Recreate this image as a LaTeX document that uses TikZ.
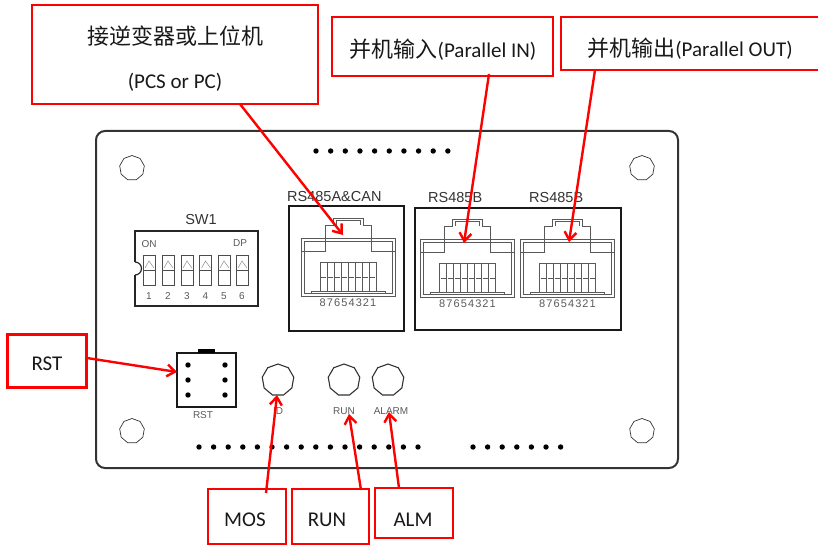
\documentclass[tikz,border=0pt]{standalone}
\usepackage{fontspec}
\setmainfont{Carlito}
\setsansfont{Liberation Sans}
\newfontfamily\cjk{Noto Sans CJK SC}
\usetikzlibrary{arrows.meta,shapes.geometric}
\tikzset{
  callout/.style={draw=red,line width=2.2pt,fill=white,inner sep=0pt},
  calltext/.style={font=\fontsize{21}{24}\selectfont,text=black!90,inner sep=0pt},
  pointer/.style={draw=red,line width=2.4pt,-{Straight Barb[length=8pt,width=12pt]}},
  hole/.style={regular polygon,regular polygon sides=9,shape border rotate=0,draw=black!80,line width=#1,inner sep=0pt},
  jackline/.style={draw=black!65,line width=0.8pt},
  silk/.style={font=\sffamily\fontsize{10}{11}\selectfont,text=black!65,inner sep=0pt},
  header/.style={font=\sffamily\fontsize{14.5}{16}\selectfont,text=black!80,inner sep=0pt},
}
% one RJ45 jack, origin at the middle of the bottom edge
\newcommand{\jack}[1]{%
\begin{scope}[shift={#1}]
\draw[jackline] (-47,-58) rectangle (47,0);
\draw[jackline] (-44,-55) rectangle (44,-3);
\draw[jackline,fill=white] (-47,-58) -- (-23,-58) -- (-23,-71) -- (-15,-71) -- (-15,-78) -- (15,-78) -- (15,-71) -- (23,-71) -- (23,-58) -- (47,-58);
\draw[jackline] (-23,-58) -- (23,-58);
\draw[jackline] (-47,-45) -- (-23,-45) -- (-23,-58);
\draw[jackline] (47,-45) -- (23,-45) -- (23,-58);
\draw[jackline] (-12,-71) -- (-12,-76) -- (12,-76) -- (12,-71);
\draw[jackline] (-23,-71) -- (-15,-71);
\draw[jackline,line width=1pt] (-28,-34) rectangle (28,-5);
\foreach \k in {1,...,7}
  \draw[jackline] (-28+7*\k,-34) -- (-28+7*\k,-5);
\foreach \k in {0,...,7}
  \draw[jackline] (-27+7*\k,-19) -- (-22+7*\k,-19);
\draw[jackline] (-37,-3) -- (-37,-5) -- (37,-5) -- (37,-3);
\node[silk,font=\sffamily\fontsize{11}{12}\selectfont] at (0,7) {\addfontfeature{LetterSpace=10}87654321};
\end{scope}}
\begin{document}
\begin{tikzpicture}[y=1pt,x=1pt,yscale=-1]
\useasboundingbox (0,0) rectangle (818,545);
\draw[black!80,line width=2pt,rounded corners=9pt] (96,131) rectangle (678,468);
% holes
\node[hole=0.7pt,minimum size=25pt] (h1) at (132,168) {};
\node[hole=0.7pt,minimum size=25pt] (h2) at (642,168) {};
\node[hole=0.7pt,minimum size=25pt] (h3) at (132,431) {};
\node[hole=0.7pt,minimum size=25pt] (h4) at (642,431) {};
% rows of pins
\foreach \k in {0,...,9}
  \fill (316+14.65*\k,151) circle (2.7);
\foreach \k in {0,...,15}
  \fill (199+14.6*\k,447) circle (2.7);
\foreach \k in {0,...,6}
  \fill (473+14.6*\k,447) circle (2.7);
% dip switch
\node[header] (sw) at (201,220) {SW1};
\draw[black!85,line width=1.4pt] (135,231) rectangle (258,306);
\fill[white] (133,262) rectangle (135,275);
\draw[black!85,line width=1.2pt,fill=white] (135,262) arc (-90:90:6.5);
\node[silk] (on) at (149,244) {ON};
\node[silk] (dp) at (240,243) {DP};
\foreach \k [count=\n] in {143,162,181,199.5,218,236}{
  \draw[black!70,line width=0.7pt] (\k,255) rectangle +(12,30);
  \draw[black!70,line width=0.7pt] (\k,270) -- +(12,0);
  \draw[black!45,line width=0.5pt] (\k+2,268) -- (\k+6,261) -- (\k+11,268);
  \node[silk] (d\n) at (\k+6,296) {\n};
}
% connectors frames
\node[header,anchor=base west] (can) at (287,202) {RS485A\&CAN};
\node[header,anchor=base west] (bin) at (428,203) {RS485B};
\node[header,anchor=base west] (bout) at (529,203) {RS485B};
\draw[black!90,line width=1.8pt] (289,206) rectangle (404,331);
\draw[black!90,line width=1.8pt] (415,208) rectangle (621,330);
\jack{(348,296)}
\jack{(467.5,297)}
\jack{(567.5,297)}
% reset header
\draw[black!90,line width=2pt] (177,353) rectangle (236,407);
\fill (198,349) rectangle (215,353);
\foreach \px in {188,225} \foreach \py in {365,380,395}
  \fill (\px,\py) circle (2.7);
\node[silk] (lblrst) at (203,415) {RST};
% leds
\node[hole=1.1pt,minimum size=32pt] (ledid) at (278,380) {};
\node[hole=1.1pt,minimum size=32pt] (ledrun) at (344,380) {};
\node[hole=1.1pt,minimum size=32pt] (ledalm) at (388,380) {};
\node[silk] (lblid) at (278,411) {ID};
\node[silk] (lblrun) at (344,411) {RUN};
\node[silk] (lblalm) at (391,411) {ALARM};
% callouts
\node[callout,minimum width=286pt,minimum height=99pt] (pcs) at (175,54.5) {};
\node[calltext,font=\cjk\fontsize{22}{26}\selectfont] (pcscn) at (175,36) {接逆变器或上位机};
\node[calltext] (pcsen) at (175,82) {(PCS or PC)};
\node[callout,minimum width=221pt,minimum height=59pt] (pin) at (442.5,46.5) {};
\node[calltext] (pintx) at (443,50) {{\cjk\fontsize{22}{26}\selectfont 并机输入}(Parallel IN)};
\node[callout,minimum width=258pt,minimum height=53pt] (pout) at (690,43.5) {};
\node[calltext] (pouttx) at (690,49) {{\cjk\fontsize{22}{26}\selectfont 并机输出}(Parallel OUT)};
\node[callout,minimum width=79pt,minimum height=53pt] (rst) at (47,361) {};
\node[calltext] (rsttx) at (47,364) {RST};
\node[callout,minimum width=78pt,minimum height=55pt] (mos) at (247,516.5) {};
\node[calltext] (mostx) at (245,520) {MOS};
\node[callout,minimum width=77pt,minimum height=55pt] (run) at (330.5,516.5) {};
\node[calltext] (runtx) at (327,520) {RUN};
\node[callout,minimum width=78pt,minimum height=50pt] (alm) at (414,513) {};
\node[calltext] (almtx) at (413,520) {ALM};
% pointers
\coordinate (tpcs) at (343,235);
\coordinate (tpin) at (464,243);
\coordinate (tout) at (569,242);
\coordinate (trst) at (177,372);
\coordinate (tmos) at (277,395);
\coordinate (trun) at (349,414);
\coordinate (talm) at (389,412);
\draw[pointer] (240,104) -- (tpcs);
\draw[pointer] (489,74) -- (tpin);
\draw[pointer] (595,70) -- (tout);
\draw[pointer] (87,358) -- (trst);
\draw[pointer] (266,493) -- (tmos);
\draw[pointer] (361,490) -- (trun);
\draw[pointer] (399,488) -- (talm);
\end{tikzpicture}
\end{document}
